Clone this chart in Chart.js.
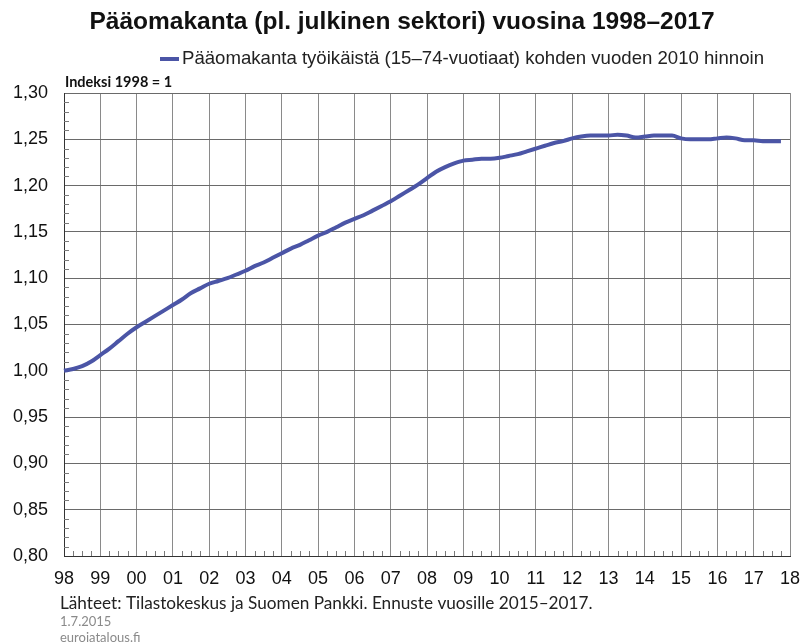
<!DOCTYPE html>
<html>
<head>
<meta charset="utf-8">
<script src="https://cdn.jsdelivr.net/npm/chart.js@4.4.1/dist/chart.umd.min.js"></script>
<style>
  html, body { margin: 0; padding: 0; background: #fff; }
  #wrap { width: 804px; height: 643px; }
</style>
</head>
<body>
<div id="wrap"><canvas id="chart" width="804" height="643"></canvas></div>
<script>
// quarterly index, 1998 Q1 = 1
var startYear = 1998;
var endYear = 2018;
var capitalStock = [
  1.000, 1.002, 1.005, 1.010,
  1.017, 1.024, 1.032, 1.040,
  1.047, 1.053, 1.059, 1.065,
  1.071, 1.077, 1.084, 1.089,
  1.094, 1.097, 1.100, 1.104,
  1.108, 1.113, 1.117, 1.122,
  1.127, 1.132, 1.136, 1.141,
  1.146, 1.150, 1.155, 1.160,
  1.164, 1.168, 1.173, 1.178,
  1.183, 1.189, 1.195, 1.201,
  1.208, 1.215, 1.220, 1.224,
  1.227, 1.228, 1.229, 1.229,
  1.230, 1.232, 1.234, 1.237,
  1.240, 1.243, 1.246, 1.248,
  1.251, 1.253, 1.254, 1.254,
  1.254, 1.255, 1.254, 1.252,
  1.253, 1.254, 1.254, 1.254,
  1.251, 1.250, 1.250, 1.250,
  1.251, 1.252, 1.251, 1.249,
  1.249, 1.248, 1.248, 1.248
];
var yTicks = [0.80, 0.85, 0.90, 0.95, 1.00, 1.05, 1.10, 1.15, 1.20, 1.25, 1.30];

var titleText = 'Pääomakanta (pl. julkinen sektori) vuosina 1998–2017';
var seriesName = 'Pääomakanta työikäistä (15–74-vuotiaat) kohden vuoden 2010 hinnoin';
var unitText = 'Indeksi 1998 = 1';
var sourceText = 'Lähteet: Tilastokeskus ja Suomen Pankki. Ennuste vuosille 2015–2017.';
var dateText = '1.7.2015';
var siteText = 'euroiatalous.fi';

var lineColor = '#4b55a6';

// one label per quarter, plus the closing year
var quarterLabels = [];
for (var yr = startYear; yr < endYear; yr++) {
  for (var q = 1; q <= 4; q++) quarterLabels.push(yr + 'Q' + q);
}
quarterLabels.push(endYear + 'Q1');

var extras = {
  id: 'extras',
  beforeDatasetsDraw: function(chart) {
    var ctx = chart.ctx, a = chart.chartArea;
    var xs = chart.scales.x, ys = chart.scales.y;
    ctx.save();
    ctx.strokeStyle = '#7a7a7a';
    ctx.lineWidth = 1;
    ctx.beginPath();
    // minor ticks on x (quarters)
    for (var i = 0; i < quarterLabels.length; i++) {
      if (i % 4 === 0) continue;
      var px = Math.round(xs.getPixelForValue(i)) + 0.5;
      ctx.moveTo(px, a.bottom);
      ctx.lineTo(px, a.bottom - 5);
    }
    // minor ticks on y (0.01 steps)
    for (var k = 81; k < 130; k++) {
      if (k % 5 === 0) continue;
      var py = Math.round(ys.getPixelForValue(k / 100)) + 0.5;
      ctx.moveTo(a.left, py);
      ctx.lineTo(a.left + 5, py);
    }
    ctx.stroke();
    ctx.restore();
  },
  afterDraw: function(chart) {
    var ctx = chart.ctx;
    ctx.save();
    ctx.fillStyle = '#111';
    ctx.textBaseline = 'middle';
    ctx.textAlign = 'center';
    ctx.font = 'bold 24.5px "Liberation Sans", Arial, sans-serif';
    ctx.fillText(titleText, 402, 22);

    ctx.strokeStyle = lineColor;
    ctx.lineWidth = 4;
    ctx.beginPath();
    ctx.moveTo(160, 59);
    ctx.lineTo(179, 59);
    ctx.stroke();
    ctx.textAlign = 'left';
    ctx.fillStyle = '#222';
    ctx.font = '18.6px "Liberation Sans", Arial, sans-serif';
    ctx.fillText(seriesName, 182, 59);

    ctx.fillStyle = '#111';
    ctx.font = 'bold 14.5px Lato, "Open Sans", sans-serif';
    ctx.fillText(unitText, 65, 82);

    ctx.fillStyle = '#222';
    ctx.font = '17.2px Lato, "Open Sans", sans-serif';
    ctx.fillText(sourceText, 60, 603);

    ctx.fillStyle = '#8a8a8a';
    ctx.font = '13px Lato, "Open Sans", sans-serif';
    ctx.fillText(dateText, 60, 622);
    ctx.fillText(siteText, 60, 638);
    ctx.restore();
  }
};

new Chart(document.getElementById('chart'), {
  type: 'line',
  data: {
    labels: quarterLabels,
    datasets: [{
      label: seriesName,
      data: capitalStock,
      borderColor: lineColor,
      backgroundColor: lineColor,
      borderWidth: 4,
      pointRadius: 0,
      cubicInterpolationMode: 'monotone',
      fill: false
    }]
  },
  options: {
    responsive: false,
    animation: false,
    layout: { padding: { top: 93, right: 14, bottom: 47, left: 0 } },
    plugins: {
      legend: { display: false },
      title: { display: false },
      tooltip: { enabled: false }
    },
    scales: {
      x: {
        type: 'category',
        offset: false,
        grid: {
          drawTicks: false,
          color: function(c) { return c.index % 4 === 0 ? '#8a8a8a' : 'rgba(0,0,0,0)'; },
          lineWidth: 1
        },
        border: { color: '#333', width: 1 },
        ticks: {
          autoSkip: false,
          maxRotation: 0,
          padding: 12,
          color: '#111',
          font: { family: '"Liberation Sans", Arial, sans-serif', size: 18 },
          callback: function(v, i) {
            return i % 4 === 0 ? String(startYear + i / 4).slice(2) : '';
          }
        },
        afterFit: function(s) {
          s.height = 40;
          s.paddingLeft = 0;
          s.paddingRight = 0;
        }
      },
      y: {
        min: 0.8,
        max: 1.3,
        grid: { drawTicks: false, color: '#6a6a6a', lineWidth: 1 },
        border: { color: '#333', width: 1 },
        afterBuildTicks: function(s) {
          s.ticks = yTicks.map(function(v) { return { value: v }; });
        },
        ticks: {
          padding: 16,
          color: '#111',
          font: { family: '"Liberation Sans", Arial, sans-serif', size: 18 },
          callback: function(v) { return v.toFixed(2).replace('.', ','); }
        },
        afterFit: function(s) { s.width = 64; }
      }
    }
  },
  plugins: [extras]
});
</script>
</body>
</html>
